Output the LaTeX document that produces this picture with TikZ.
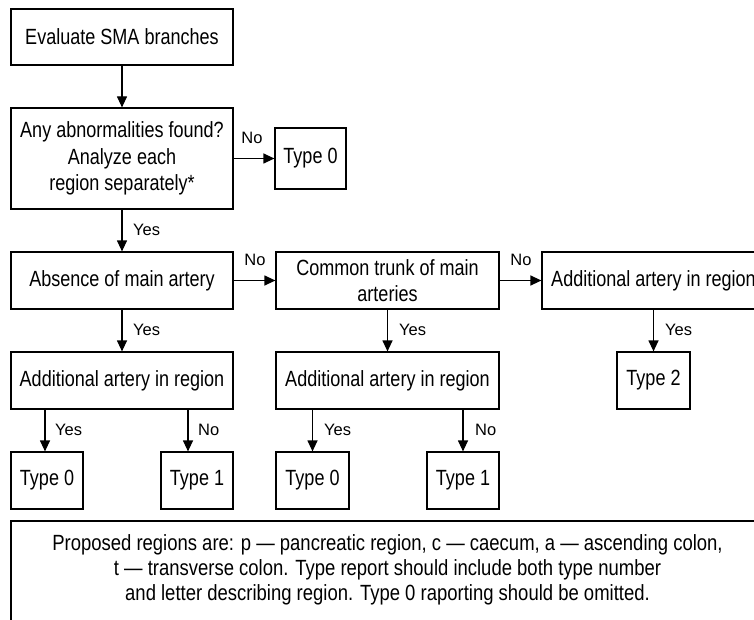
\documentclass[tikz,border=0pt]{standalone}
\usepackage{fontspec}
\newfontfamily\condfont[FakeStretch=0.82]{Liberation Sans}
\newfontfamily\notefont[FakeStretch=0.84]{Liberation Sans}
\newfontfamily\labfont{Liberation Sans}
\usetikzlibrary{arrows.meta,calc}
\begin{document}
\begin{tikzpicture}[x=1pt,y=-1pt,
  box/.style={draw,line width=1.2pt,inner sep=0pt,align=center,
    font=\condfont\fontsize{22}{26.5}\selectfont},
  arr/.style={line width=1.2pt,-{Triangle[length=11pt,width=10pt]}},
  lbl/.style={font=\labfont\fontsize{16.5}{18}\selectfont,inner sep=0pt}]
\clip (0,0) rectangle (754,620);
\fill[white] (0,0) rectangle (754,620);
% boxes
\node[box,minimum width=222pt,minimum height=56pt] (b1) at (122,37) {Evaluate SMA branches};
\node[box,minimum width=222pt,minimum height=101pt] (b2) at (122,158.5) {Any abnormalities found?\\Analyze each\\region separately*};
\node[box,minimum width=71pt,minimum height=61pt] (t0a) at (310.5,158.5) {Type 0};
\node[box,minimum width=222pt,minimum height=57pt] (b3) at (122,280.5) {Absence of main artery};
\node[box,minimum width=223pt,minimum height=57pt] (b4) at (387.5,280.5) {Common trunk of main\\arteries};
\node[box,minimum width=223pt,minimum height=57pt] (b5) at (653.5,280.5) {Additional artery in region};
\node[box,minimum width=222pt,minimum height=57pt] (b6) at (122,380.5) {Additional artery in region};
\node[box,minimum width=223pt,minimum height=57pt] (b7) at (387.5,380.5) {Additional artery in region};
\node[box,minimum width=73pt,minimum height=57pt] (t2) at (653.5,380.5) {Type 2};
\node[box,minimum width=72pt,minimum height=57pt] (t0b) at (47,480.5) {Type 0};
\node[box,minimum width=72pt,minimum height=57pt] (t1a) at (197,480.5) {Type 1};
\node[box,minimum width=73pt,minimum height=57pt] (t0c) at (312.5,480.5) {Type 0};
\node[box,minimum width=72pt,minimum height=57pt] (t1b) at (463,480.5) {Type 1};
% note
\draw[line width=1.2pt] (11,640) -- (11,521) -- (770,521);
\node[align=center,inner sep=0pt,font=\notefont\fontsize{22}{25}\selectfont] (note) at (387.5,570)
 {Proposed regions are: p — pancreatic region, c — caecum, a — ascending colon,\\
  t — transverse colon. Type report should include both type number\\
  and letter describing region. Type 0 raporting should be omitted.};
% arrows
\draw[arr] (b1.south) -- (b2.north);
\draw[arr] (b2.east) -- (t0a.west);
\draw[arr] (b2.south) -- (b3.north);
\draw[arr] (b3.east) -- (b4.west);
\draw[arr] (b4.east) -- (b5.west);
\draw[arr] (b3.south) -- (b6.north);
\draw[arr] (b4.south) -- (b7.north);
\draw[arr] (b5.south) -- (t2.north);
\coordinate (c1) at ($(t0b.north)+(-2,0)$);
\coordinate (c2) at ($(t1a.north)+(-9,0)$);
\draw[arr] (c1 |- b6.south) -- (c1);
\draw[arr] (c2 |- b6.south) -- (c2);
\draw[arr] (t0c.north |- b7.south) -- (t0c.north);
\draw[arr] (t1b.north |- b7.south) -- (t1b.north);
% labels
\node[lbl] (l1) at (252,138) {No};
\node[lbl,anchor=west] (l2) at (133,229.5) {Yes};
\node[lbl] (l3) at (255,260) {No};
\node[lbl] (l4) at (521,260) {No};
\node[lbl,anchor=west] (l5) at (133,329.5) {Yes};
\node[lbl,anchor=west] (l6) at (399,329.5) {Yes};
\node[lbl,anchor=west] (l7) at (665,329.5) {Yes};
\node[lbl,anchor=west] (l8) at (55,429.5) {Yes};
\node[lbl,anchor=west] (l9) at (198,429.5) {No};
\node[lbl,anchor=west] (l10) at (324,429.5) {Yes};
\node[lbl,anchor=west] (l11) at (475,429.5) {No};
\end{tikzpicture}
\end{document}
